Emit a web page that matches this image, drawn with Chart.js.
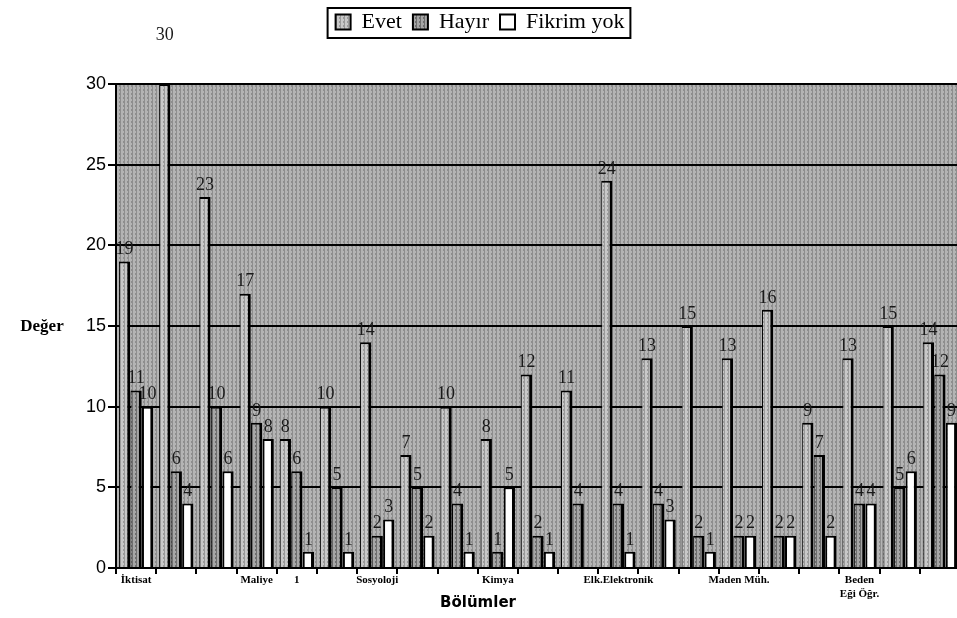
<!DOCTYPE html>
<html>
<head>
<meta charset="utf-8">
<script src="https://cdn.jsdelivr.net/npm/chart.js@4"></script>
<style>
  html, body { margin: 0; padding: 0; background: #fff; overflow: hidden; }
  #wrap { width: 962px; height: 618px; }
</style>
</head>
<body>
<div id="wrap"><canvas id="barChart" width="962" height="618"></canvas></div>
<script>
// Bölümler (only every third name is printed on the axis)
const categories = ['İktisat', '', '', 'Maliye', '1', '', 'Sosyoloji', '', '', 'Kimya', '', '',
    'Elk.Elektronik', '', '', 'Maden Müh.', '', '', ['Beden', 'Eği Öğr.'], '', ''];

const evet   = [19, 30, 23, 17, 8, 10, 14, 7, 10, 8, 12, 11, 24, 13, 15, 13, 16, 9, 13, 15, 14];
const hayir  = [11, 6, 10, 9, 6, 5, 2, 5, 4, 1, 2, 4, 4, 4, 2, 2, 2, 7, 4, 5, 12];
const fikrim = [10, 4, 6, 8, 1, 1, 3, 2, 1, 5, 1, 0, 1, 3, 1, 2, 2, 2, 4, 6, 9];

const yTicks = [0, 5, 10, 15, 20, 25, 30];

// small ordered-dither pattern to imitate the halftone print
function dither(light, dark) {
    const c = document.createElement('canvas');
    c.width = 4; c.height = 4;
    const g = c.getContext('2d');
    const m = [0, 8, 2, 10, 12, 4, 14, 6, 3, 11, 1, 9, 15, 7, 13, 5];
    for (let i = 0; i < 16; i++) {
        g.fillStyle = m[i] % 3 === 0 ? dark : light;
        g.fillRect(i % 4, Math.floor(i / 4), 1, 1);
    }
    return g.createPattern(c, 'repeat');
}

const ctx = document.getElementById('barChart').getContext('2d');
const plotBg = dither('#b4b4b4', '#8e8e8e');
const evetFill = dither('#c8c8c8', '#9a9a9a');
const hayirFill = dither('#a6a6a6', '#6e6e6e');

// gray background of the plot area
const plotBackground = {
    id: 'plotBackground',
    beforeDraw(chart) {
        const a = chart.chartArea, c = chart.ctx;
        c.save();
        c.fillStyle = plotBg;
        c.fillRect(a.left, a.top, a.right - a.left, a.bottom - a.top);
        c.restore();
    }
};

// value labels, drawn before the bars so neighbours can cover them
const valueLabels = {
    id: 'valueLabels',
    beforeDatasetsDraw(chart) {
        const c = chart.ctx;
        c.save();
        c.font = '18px "Liberation Serif"';
        c.fillStyle = '#1a1a1a';
        c.textAlign = 'center';
        c.textBaseline = 'bottom';
        chart.data.datasets.forEach((ds, i) => {
            chart.getDatasetMeta(i).data.forEach((bar, j) => {
                const v = ds.data[j];
                if (!v) return;
                let y = bar.y - 3;
                if (v >= 30) y = bar.y - 40;
                c.fillText(String(v), bar.x, y);
            });
        });
        c.restore();
    }
};

// legend frame, axis titles
const extras = {
    id: 'extras',
    afterDraw(chart) {
        const c = chart.ctx;
        c.save();
        const boxes = chart.legend.legendHitBoxes;
        if (boxes && boxes.length) {
            const l = boxes[0].left - 8;
            const r = boxes[boxes.length - 1].left + boxes[boxes.length - 1].width + 6;
            c.strokeStyle = '#000';
            c.lineWidth = 2;
            c.strokeRect(l, 8, r - l, 30);
        }
        c.fillStyle = '#000';
        c.textAlign = 'center';
        c.textBaseline = 'middle';
        c.font = 'bold 17px "Liberation Serif"';
        c.fillText('Değer', 42, 327);
        c.font = 'bold 15px "DejaVu Sans"';
        c.fillText('Bölümler', 478, 603);
        c.restore();
    }
};

// stretch the legend block so the plot starts lower
const legendSpace = {
    id: 'legendSpace',
    beforeInit(chart) {
        const fit = chart.legend.fit;
        chart.legend.fit = function () {
            fit.bind(chart.legend)();
            this.height = 84;
        };
    }
};

const barChart = new Chart(ctx, {
    type: 'bar',
    data: {
        labels: categories,
        datasets: [{
            label: 'Evet',
            data: evet,
            backgroundColor: evetFill,
            borderColor: '#000',
            borderWidth: { top: 2, left: 1, right: 3, bottom: 0 }
        }, {
            label: 'Hayır',
            data: hayir,
            backgroundColor: hayirFill,
            borderColor: '#000',
            borderWidth: { top: 2, left: 1, right: 3, bottom: 0 }
        }, {
            label: 'Fikrim yok',
            data: fikrim,
            backgroundColor: '#ffffff',
            borderColor: '#000',
            borderWidth: { top: 2, left: 2, right: 3, bottom: 0 }
        }]
    },
    options: {
        responsive: false,
        animation: false,
        layout: { padding: { left: 0, right: 2, top: 0, bottom: 0 } },
        datasets: { bar: { categoryPercentage: 0.86, barPercentage: 0.98 } },
        plugins: {
            tooltip: { enabled: false },
            legend: {
                position: 'top',
                labels: {
                    color: '#000',
                    font: { family: 'Liberation Serif', size: 22 },
                    boxWidth: 15,
                    boxHeight: 15,
                    padding: 11,
                    generateLabels(chart) {
                        return chart.data.datasets.map((ds, i) => ({
                            text: ds.label,
                            fillStyle: ds.backgroundColor,
                            strokeStyle: '#000',
                            lineWidth: 2,
                            datasetIndex: i
                        }));
                    }
                }
            }
        },
        scales: {
            x: {
                offset: true,
                grid: {
                    offset: true,
                    drawOnChartArea: false,
                    drawTicks: true,
                    tickLength: 6,
                    color: '#000',
                    lineWidth: 2
                },
                border: { color: '#000', width: 2 },
                ticks: {
                    autoSkip: false,
                    maxRotation: 0,
                    padding: 0,
                    color: '#000',
                    font: { family: 'Liberation Serif', size: 11, weight: 'bold', lineHeight: 1.2 }
                },
                afterFit(scale) { scale.height = 50; }
            },
            y: {
                min: 0,
                max: 30,
                afterBuildTicks(scale) { scale.ticks = yTicks.map(v => ({ value: v })); },
                grid: {
                    color: '#000',
                    lineWidth: 2,
                    tickLength: 8
                },
                border: { color: '#000', width: 2 },
                ticks: {
                    color: '#000',
                    padding: 2,
                    font: { family: 'Liberation Sans', size: 18 }
                },
                afterFit(scale) { scale.width = 116; }
            }
        }
    },
    plugins: [legendSpace, plotBackground, valueLabels, extras]
});
</script>
</body>
</html>
